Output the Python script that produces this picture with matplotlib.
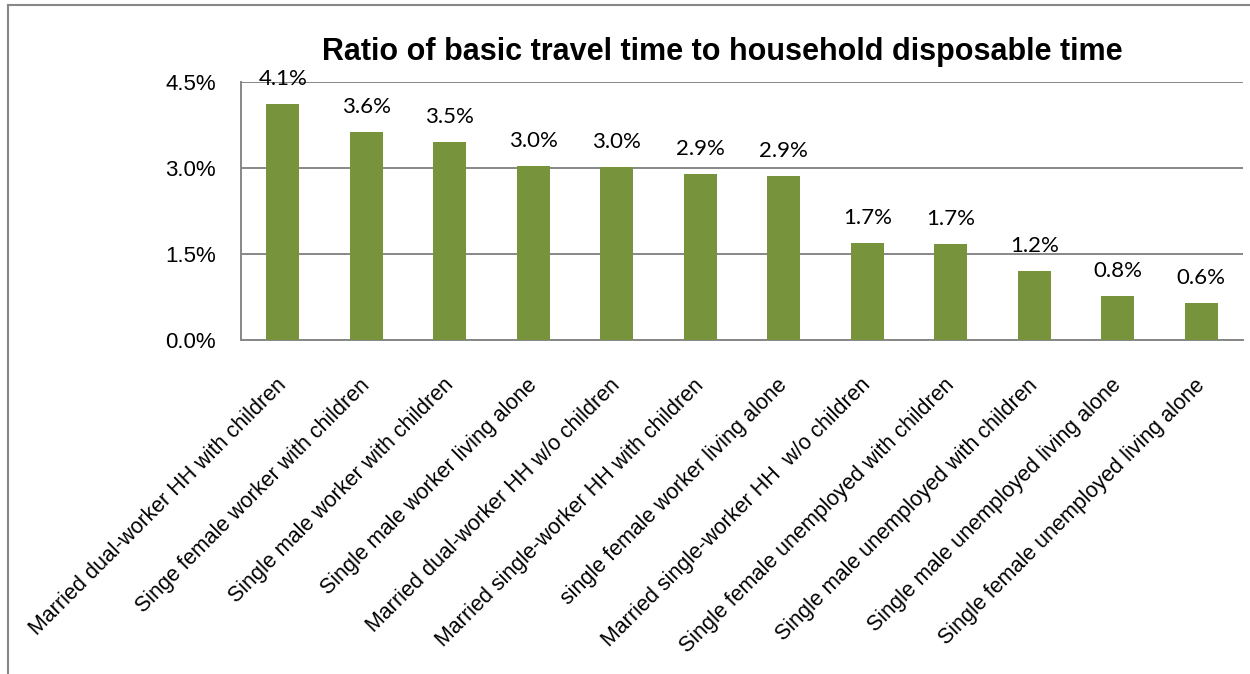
import matplotlib
matplotlib.use("Agg")
import matplotlib.pyplot as plt
from matplotlib.lines import Line2D
from matplotlib.ticker import FuncFormatter
from matplotlib.transforms import ScaledTranslation

# Household types and their share of disposable time spent on basic travel (%)
categories = [
    "Married dual-worker HH with children",
    "Singe female worker with children",
    "Single male worker with children",
    "Single male worker living alone",
    "Married dual-worker HH w/o children",
    "Married single-worker HH with children",
    "single female worker living alone",
    "Married single-worker HH  w/o children",
    "Single female unemployed with children",
    "Single male unemployed with children",
    "Single male unemployed living alone",
    "Single female unemployed living alone",
]
ratios = [4.11, 3.63, 3.46, 3.03, 3.01, 2.89, 2.86, 1.69, 1.67, 1.21, 0.76, 0.64]
yticks = [0.0, 1.5, 3.0, 4.5]

title = "Ratio of basic travel time to household disposable time"

bar_color = "#77933C"
grid_color = "#878787"
sans = ["Liberation Sans", "DejaVu Sans"]
label_font = ["Lato", "DejaVu Sans"]

fig = plt.figure(figsize=(12.5, 6.74), dpi=100)
ax = fig.add_axes([241 / 1250, 1 - 340 / 674, (1243 - 241) / 1250, (340 - 82) / 674])

x = list(range(len(categories)))
bars = ax.bar(x, ratios, width=0.39, color=bar_color, zorder=3)

ax.set_xlim(-0.5, len(categories) - 0.5)
ax.set_ylim(0, 4.5)
ax.set_yticks(yticks)
ax.yaxis.set_major_formatter(FuncFormatter(lambda v, _: f"{v:.1f}%"))
ax.yaxis.grid(True, color=grid_color, linewidth=1.4, zorder=0)
ax.set_axisbelow(True)

for side in ("top", "right"):
    ax.spines[side].set_visible(False)
for side in ("left", "bottom"):
    ax.spines[side].set_color(grid_color)
    ax.spines[side].set_linewidth(1.4)

ax.tick_params(axis="y", length=0, pad=18, labelsize=16)
for lab in ax.get_yticklabels():
    lab.set_fontfamily(sans)

ax.set_xticks(x)
ax.set_xticklabels(categories, rotation=45, ha="right", va="top",
                   rotation_mode="anchor", fontsize=15.5, family=sans)
ax.tick_params(axis="x", length=0, pad=25)
shift = ScaledTranslation(-7 / 100, 0, fig.dpi_scale_trans)
for lab in ax.get_xticklabels():
    lab.set_transform(lab.get_transform() + shift)

for rect, val in zip(bars, ratios):
    ax.annotate(f"{val:.1f}%", (rect.get_x() + rect.get_width() / 2, val),
                xytext=(0, 18), textcoords="offset points",
                ha="center", va="center", fontsize=16, family=label_font,
                zorder=4)

fig.text(722 / 1250, 1 - 60 / 674, title, ha="center", va="baseline",
         fontsize=22, fontweight="bold", family=sans)

# Outer frame on the top and left edges of the figure
fig.add_artist(Line2D([8 / 1250, 8 / 1250], [0, 1 - 5 / 674],
                      transform=fig.transFigure, color=grid_color, linewidth=1.5))
fig.add_artist(Line2D([8 / 1250, 1], [1 - 5 / 674, 1 - 5 / 674],
                      transform=fig.transFigure, color=grid_color, linewidth=1.5))

fig.savefig("out.png", dpi=100, facecolor="white")
